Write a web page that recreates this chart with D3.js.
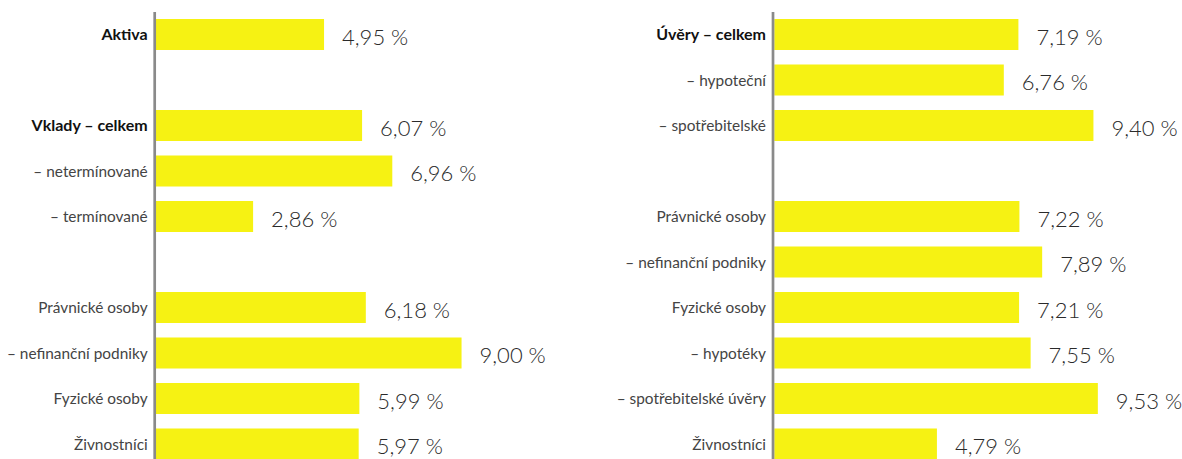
<!DOCTYPE html>
<html><head><meta charset="utf-8">
<script src="https://cdn.jsdelivr.net/npm/d3@7/dist/d3.min.js"></script>
<style>html,body{margin:0;padding:0;background:#fff;}svg{display:block;}</style>
</head><body>
<svg id="c" width="1182" height="459"></svg>
<script>
// Left panel
const leftLabels = ["Aktiva", "", "Vklady – celkem", "– netermínované", "– termínované", "", "Právnické osoby", "– nefinanční podniky", "Fyzické osoby", "Živnostníci"];
const leftValues = [4.95, null, 6.07, 6.96, 2.86, null, 6.18, 9.00, 5.99, 5.97];
const leftBold = [true, false, true, false, false, false, false, false, false, false];
// Right panel
const rightLabels = ["Úvěry – celkem", "– hypoteční", "– spotřebitelské", "", "Právnické osoby", "– nefinanční podniky", "Fyzické osoby", "– hypotéky", "– spotřebitelské úvěry", "Živnostníci"];
const rightValues = [7.19, 6.76, 9.40, null, 7.22, 7.89, 7.21, 7.55, 9.53, 4.79];
const rightBold = [true, false, false, false, false, false, false, false, false, false];

const svg = d3.select("#c");
const fmt = v => d3.format(".2f")(v).replace(".", ",") + " %";

function panel(axisX, labels, values, bold) {
  const g = svg.append("g");
  const y = d3.scaleBand().domain(d3.range(labels.length))
    .range([11.75, 11.75 + 45.5 * labels.length]).paddingInner(0.3187).paddingOuter(0.15935);
  const x = d3.scaleLinear().domain([0, 10]).range([axisX + 1.3, axisX + 1.3 + 339.5]);
  const rows = labels.map((l, i) => ({l, v: values[i], b: bold[i], i}));
  g.selectAll("rect").data(rows.filter(d => d.v != null)).join("rect")
    .attr("x", x(0)).attr("y", d => y(d.i))
    .attr("width", d => x(d.v) - x(0)).attr("height", y.bandwidth())
    .attr("fill", "#F6F213");
  g.append("line").attr("x1", axisX).attr("x2", axisX).attr("y1", 12).attr("y2", 459)
    .attr("stroke", "#8a8a8a").attr("stroke-width", 2.7);
  g.selectAll("text.lab").data(rows.filter(d => d.l)).join("text")
    .attr("class", "lab")
    .attr("x", axisX - 7).attr("y", d => y(d.i) + y.bandwidth() / 2 + 5.5)
    .attr("text-anchor", "end")
    .style("font-family", "Lato, 'Noto Sans', sans-serif")
    .style("font-size", d => d.b ? "16px" : "15.4px")
    .style("font-weight", d => d.b ? 700 : 400)
    .attr("fill", d => d.b ? "#111" : "#444")
    .text(d => d.l);
  g.selectAll("text.val").data(rows.filter(d => d.v != null)).join("text")
    .attr("class", "val")
    .attr("x", d => x(d.v) + 18).attr("y", d => y(d.i) + y.bandwidth() / 2 + 10)
    .style("font-family", "Lato, 'Noto Sans', sans-serif")
    .style("font-size", "22px")
    .style("font-weight", 300)
    .attr("fill", "#2a2a2a")
    .text(d => fmt(d.v));
}
panel(154.7, leftLabels, leftValues, leftBold);
panel(773, rightLabels, rightValues, rightBold);
</script>
</body></html>
